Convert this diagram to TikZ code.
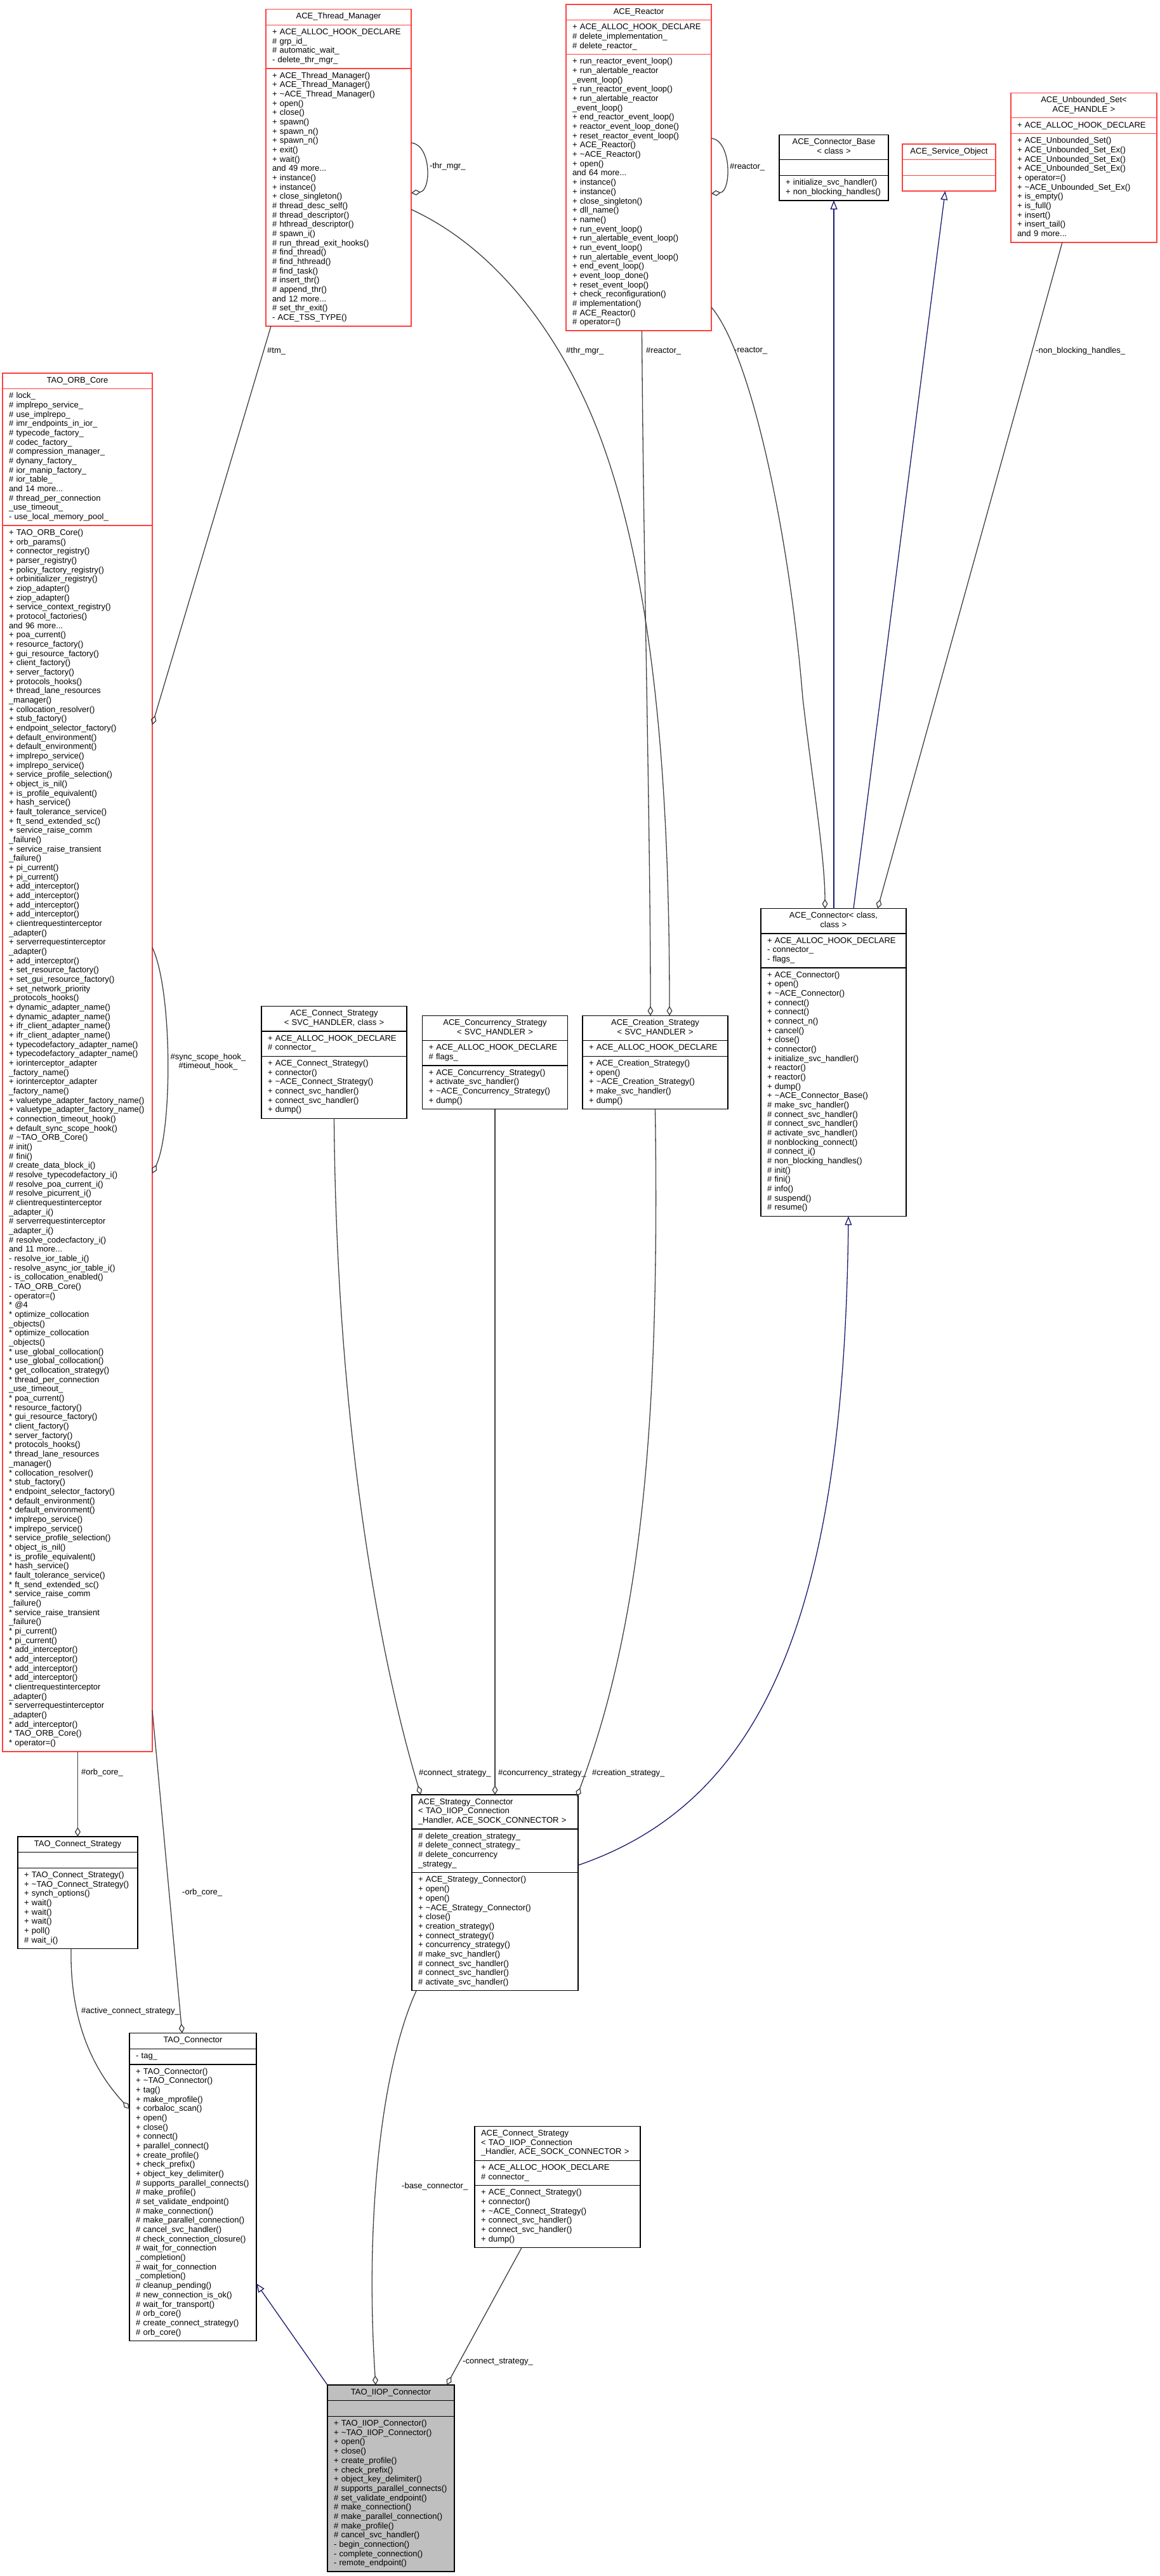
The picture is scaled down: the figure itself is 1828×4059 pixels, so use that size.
\documentclass[tikz,border=0pt]{standalone}
\usepackage{fontspec}
\setmainfont{Liberation Sans}
\usetikzlibrary{arrows.meta,fit,calc}
\definecolor{tred}{RGB}{255,64,64}
\definecolor{egrey}{RGB}{64,64,64}
\definecolor{mblue}{RGB}{25,25,112}
\definecolor{ifill}{RGB}{191,191,191}
\tikzset{
  sec/.style={draw=none, inner xsep=10pt, inner ysep=5pt, outer sep=0pt, anchor=north west,
    font=\fontsize{13}{14.67}\selectfont, execute at begin node=\strut, execute at end node=\strut},
  boxline/.style={line width=1.3pt},
  agg/.style={draw=egrey, line width=1.3pt, -{Diamond[open,length=15pt,width=9pt]}},
  inh/.style={draw=mblue, line width=1.3pt, -{Triangle[open,length=14pt,width=11pt]}},
  lbl/.style={font=\fontsize{13}{14.67}\selectfont, inner sep=0pt, anchor=west},
}
% #1 name, #2 top-left, #3 text width, #4 border colour, #5 section style, #6 title align, #7 title, #8 attrs, #9 methods
\newcommand\umlc[9]{%
  \node[sec, text width=#3pt, align=#6, #5] (#1-t) at #2 {#7};
  \node[sec, text width=#3pt, align=left, #5] (#1-a) at (#1-t.south west) {#8};
  \node[sec, text width=#3pt, align=left, #5] (#1-m) at (#1-a.south west) {#9};
  \node[boxline, draw=#4, inner sep=0pt, outer sep=0pt, fit=(#1-t)(#1-m)] (#1) {};
  \draw[boxline, draw=#4] (#1-t.south west) -- (#1-t.south east) (#1-a.south west) -- (#1-a.south east);
}
\newcommand\st{\relax*}
\catcode`\_=12
\catcode`\~=12
\begin{document}
\begin{tikzpicture}[x=1pt,y=-1pt]
\fill[white] (0,0) rectangle (1828,4059);
\path[use as bounding box] (0,0) rectangle (1828,4059);

% ---------- rank 0 ----------
\umlc{tm}{(419,14.5)}{209}{tred}{}{center}{ACE_Thread_Manager}
{+ ACE_ALLOC_HOOK_DECLARE\\\# grp_id_\\\# automatic_wait_\\- delete_thr_mgr_}
{+ ACE_Thread_Manager()\\+ ACE_Thread_Manager()\\+ ~ACE_Thread_Manager()\\+ open()\\+ close()\\+ spawn()\\+ spawn_n()\\+ spawn_n()\\+ exit()\\+ wait()\\and 49 more...\\+ instance()\\+ instance()\\+ close_singleton()\\\# thread_desc_self()\\\# thread_descriptor()\\\# hthread_descriptor()\\\# spawn_i()\\\# run_thread_exit_hooks()\\\# find_thread()\\\# find_hthread()\\\# find_task()\\\# insert_thr()\\\# append_thr()\\and 12 more...\\\# set_thr_exit()\\- ACE_TSS_TYPE()}

\umlc{reactor}{(892,7)}{209}{tred}{}{center}{ACE_Reactor}
{+ ACE_ALLOC_HOOK_DECLARE\\\# delete_implementation_\\\# delete_reactor_}
{+ run_reactor_event_loop()\\+ run_alertable_reactor\\_event_loop()\\+ run_reactor_event_loop()\\+ run_alertable_reactor\\_event_loop()\\+ end_reactor_event_loop()\\+ reactor_event_loop_done()\\+ reset_reactor_event_loop()\\+ ACE_Reactor()\\+ ~ACE_Reactor()\\+ open()\\and 64 more...\\+ instance()\\+ instance()\\+ close_singleton()\\+ dll_name()\\+ name()\\+ run_event_loop()\\+ run_alertable_event_loop()\\+ run_event_loop()\\+ run_alertable_event_loop()\\+ end_event_loop()\\+ event_loop_done()\\+ reset_event_loop()\\+ check_reconfiguration()\\\# implementation()\\\# ACE_Reactor()\\\# operator=()}

\umlc{cbase}{(1228,212.5)}{152}{black}{}{center}{ACE_Connector_Base\\< class >}{}
{+ initialize_svc_handler()\\+ non_blocking_handles()}

\umlc{svcobj}{(1422,227)}{127}{tred}{}{center}{ACE_Service_Object}{}{}

\umlc{uset}{(1593,146.5)}{210}{tred}{}{center}{ACE_Unbounded_Set<\\ACE_HANDLE >}
{+ ACE_ALLOC_HOOK_DECLARE}
{+ ACE_Unbounded_Set()\\+ ACE_Unbounded_Set_Ex()\\+ ACE_Unbounded_Set_Ex()\\+ ACE_Unbounded_Set_Ex()\\+ operator=()\\+ ~ACE_Unbounded_Set_Ex()\\+ is_empty()\\+ is_full()\\+ insert()\\+ insert_tail()\\and 9 more...}

% ---------- rank 1 ----------
\umlc{orb}{(4,588)}{216}{tred}{}{center}{TAO_ORB_Core}
{\# lock_\\\# implrepo_service_\\\# use_implrepo_\\\# imr_endpoints_in_ior_\\\# typecode_factory_\\\# codec_factory_\\\# compression_manager_\\\# dynany_factory_\\\# ior_manip_factory_\\\# ior_table_\\and 14 more...\\\# thread_per_connection\\_use_timeout_\\- use_local_memory_pool_}
{+ TAO_ORB_Core()\\+ orb_params()\\+ connector_registry()\\+ parser_registry()\\+ policy_factory_registry()\\+ orbinitializer_registry()\\+ ziop_adapter()\\+ ziop_adapter()\\+ service_context_registry()\\+ protocol_factories()\\and 96 more...\\+ poa_current()\\+ resource_factory()\\+ gui_resource_factory()\\+ client_factory()\\+ server_factory()\\+ protocols_hooks()\\+ thread_lane_resources\\_manager()\\+ collocation_resolver()\\+ stub_factory()\\+ endpoint_selector_factory()\\+ default_environment()\\+ default_environment()\\+ implrepo_service()\\+ implrepo_service()\\+ service_profile_selection()\\+ object_is_nil()\\+ is_profile_equivalent()\\+ hash_service()\\+ fault_tolerance_service()\\+ ft_send_extended_sc()\\+ service_raise_comm\\_failure()\\+ service_raise_transient\\_failure()\\+ pi_current()\\+ pi_current()\\+ add_interceptor()\\+ add_interceptor()\\+ add_interceptor()\\+ add_interceptor()\\+ clientrequestinterceptor\\_adapter()\\+ serverrequestinterceptor\\_adapter()\\+ add_interceptor()\\+ set_resource_factory()\\+ set_gui_resource_factory()\\+ set_network_priority\\_protocols_hooks()\\+ dynamic_adapter_name()\\+ dynamic_adapter_name()\\+ ifr_client_adapter_name()\\+ ifr_client_adapter_name()\\+ typecodefactory_adapter_name()\\+ typecodefactory_adapter_name()\\+ iorinterceptor_adapter\\_factory_name()\\+ iorinterceptor_adapter\\_factory_name()\\+ valuetype_adapter_factory_name()\\+ valuetype_adapter_factory_name()\\+ connection_timeout_hook()\\+ default_sync_scope_hook()\\\# ~TAO_ORB_Core()\\\# init()\\\# fini()\\\# create_data_block_i()\\\# resolve_typecodefactory_i()\\\# resolve_poa_current_i()\\\# resolve_picurrent_i()\\\# clientrequestinterceptor\\_adapter_i()\\\# serverrequestinterceptor\\_adapter_i()\\\# resolve_codecfactory_i()\\and 11 more...\\- resolve_ior_table_i()\\- resolve_async_ior_table_i()\\- is_collocation_enabled()\\- TAO_ORB_Core()\\- operator=()\\\st{} @4\\\st{} optimize_collocation\\_objects()\\\st{} optimize_collocation\\_objects()\\\st{} use_global_collocation()\\\st{} use_global_collocation()\\\st{} get_collocation_strategy()\\\st{} thread_per_connection\\_use_timeout_\\\st{} poa_current()\\\st{} resource_factory()\\\st{} gui_resource_factory()\\\st{} client_factory()\\\st{} server_factory()\\\st{} protocols_hooks()\\\st{} thread_lane_resources\\_manager()\\\st{} collocation_resolver()\\\st{} stub_factory()\\\st{} endpoint_selector_factory()\\\st{} default_environment()\\\st{} default_environment()\\\st{} implrepo_service()\\\st{} implrepo_service()\\\st{} service_profile_selection()\\\st{} object_is_nil()\\\st{} is_profile_equivalent()\\\st{} hash_service()\\\st{} fault_tolerance_service()\\\st{} ft_send_extended_sc()\\\st{} service_raise_comm\\_failure()\\\st{} service_raise_transient\\_failure()\\\st{} pi_current()\\\st{} pi_current()\\\st{} add_interceptor()\\\st{} add_interceptor()\\\st{} add_interceptor()\\\st{} add_interceptor()\\\st{} clientrequestinterceptor\\_adapter()\\\st{} serverrequestinterceptor\\_adapter()\\\st{} add_interceptor()\\\st{} TAO_ORB_Core()\\\st{} operator=()}

\umlc{cstrat}{(412,1585.6)}{209}{black}{}{center}{ACE_Connect_Strategy\\< SVC_HANDLER, class >}
{+ ACE_ALLOC_HOOK_DECLARE\\\# connector_}
{+ ACE_Connect_Strategy()\\+ connector()\\+ ~ACE_Connect_Strategy()\\+ connect_svc_handler()\\+ connect_svc_handler()\\+ dump()}

\umlc{concur}{(665.5,1600.3)}{209}{black}{}{center}{ACE_Concurrency_Strategy\\< SVC_HANDLER >}
{+ ACE_ALLOC_HOOK_DECLARE\\\# flags_}
{+ ACE_Concurrency_Strategy()\\+ activate_svc_handler()\\+ ~ACE_Concurrency_Strategy()\\+ dump()}

\umlc{creat}{(918,1600.3)}{209}{black}{}{center}{ACE_Creation_Strategy\\< SVC_HANDLER >}
{+ ACE_ALLOC_HOOK_DECLARE}
{+ ACE_Creation_Strategy()\\+ open()\\+ ~ACE_Creation_Strategy()\\+ make_svc_handler()\\+ dump()}

\umlc{acon}{(1199,1431.6)}{209}{black}{}{center}{ACE_Connector< class,\\class >}
{+ ACE_ALLOC_HOOK_DECLARE\\- connector_\\- flags_}
{+ ACE_Connector()\\+ open()\\+ ~ACE_Connector()\\+ connect()\\+ connect()\\+ connect_n()\\+ cancel()\\+ close()\\+ connector()\\+ initialize_svc_handler()\\+ reactor()\\+ reactor()\\+ dump()\\+ ~ACE_Connector_Base()\\\# make_svc_handler()\\\# connect_svc_handler()\\\# connect_svc_handler()\\\# activate_svc_handler()\\\# nonblocking_connect()\\\# connect_i()\\\# non_blocking_handles()\\\# init()\\\# fini()\\\# info()\\\# suspend()\\\# resume()}

% ---------- rank 2 ----------
\umlc{tcs}{(28,2894)}{169}{black}{}{center}{TAO_Connect_Strategy}{}
{+ TAO_Connect_Strategy()\\+ ~TAO_Connect_Strategy()\\+ synch_options()\\+ wait()\\+ wait()\\+ wait()\\+ poll()\\\# wait_i()}

\umlc{sc}{(649,2828)}{242}{black}{}{left}{ACE_Strategy_Connector\\< TAO_IIOP_Connection\\_Handler, ACE_SOCK_CONNECTOR >}
{\# delete_creation_strategy_\\\# delete_connect_strategy_\\\# delete_concurrency\\_strategy_}
{+ ACE_Strategy_Connector()\\+ open()\\+ open()\\+ ~ACE_Strategy_Connector()\\+ close()\\+ creation_strategy()\\+ connect_strategy()\\+ concurrency_strategy()\\\# make_svc_handler()\\\# connect_svc_handler()\\\# connect_svc_handler()\\\# activate_svc_handler()}

% ---------- rank 3 ----------
\umlc{tcon}{(204,3203.6)}{180}{black}{}{center}{TAO_Connector}{- tag_}
{+ TAO_Connector()\\+ ~TAO_Connector()\\+ tag()\\+ make_mprofile()\\+ corbaloc_scan()\\+ open()\\+ close()\\+ connect()\\+ parallel_connect()\\+ create_profile()\\+ check_prefix()\\+ object_key_delimiter()\\\# supports_parallel_connects()\\\# make_profile()\\\# set_validate_endpoint()\\\# make_connection()\\\# make_parallel_connection()\\\# cancel_svc_handler()\\\# check_connection_closure()\\\# wait_for_connection\\_completion()\\\# wait_for_connection\\_completion()\\\# cleanup_pending()\\\# new_connection_is_ok()\\\# wait_for_transport()\\\# orb_core()\\\# create_connect_strategy()\\\# orb_core()}

\umlc{iiopcs}{(748,3350.3)}{241}{black}{}{left}{ACE_Connect_Strategy\\< TAO_IIOP_Connection\\_Handler, ACE_SOCK_CONNECTOR >}
{+ ACE_ALLOC_HOOK_DECLARE\\\# connector_}
{+ ACE_Connect_Strategy()\\+ connector()\\+ ~ACE_Connect_Strategy()\\+ connect_svc_handler()\\+ connect_svc_handler()\\+ dump()}

% ---------- rank 4 ----------
\umlc{iiop}{(516,3758)}{180}{black}{fill=ifill}{center}{TAO_IIOP_Connector}{}
{+ TAO_IIOP_Connector()\\+ ~TAO_IIOP_Connector()\\+ open()\\+ close()\\+ create_profile()\\+ check_prefix()\\+ object_key_delimiter()\\\# supports_parallel_connects()\\\# set_validate_endpoint()\\\# make_connection()\\\# make_parallel_connection()\\\# make_profile()\\\# cancel_svc_handler()\\- begin_connection()\\- complete_connection()\\- remote_endpoint()}

% ---------- connectors ----------
% self loops
\draw[agg] (tm.east |- 0,225) .. controls (680,228) and (680,301) .. (tm.east |- 0,304);
\node[lbl] (l-thrmgr1) at (677,262) {-thr_mgr_};
\draw[agg] (reactor.east |- 0,218) .. controls (1153,221) and (1153,302) .. (reactor.east |- 0,305);
\node[lbl] (l-reactor1) at (1150,263) {\#reactor_};
\draw[agg] (orb.east |- 0,1493) .. controls (272,1560) and (272,1782) .. (orb.east |- 0,1849);
\node[lbl, anchor=center, align=center] (l-hooks) at (328,1673) {\#sync_scope_hook_\\\#timeout_hook_};

% rank 0 -> rank 1
\draw[agg] ($(tm.south west)+(8,0)$) -- (orb.east |- 0,1142);
\node[lbl] (l-tm) at (421,553) {\#tm_};
\draw[agg] (tm.east |- 0,330) .. controls (800,400) and (900,560) .. (950,700)
  .. controls (1040,950) and (1055,1300) .. (1055,0 |- creat.north);
\node[lbl] (l-thrmgr2) at (892,553) {\#thr_mgr_};
\draw[agg] ($(reactor.south)+(5,0)$) .. controls (1014,900) and (1025,1300) .. (1025,0 |- creat.north);
\node[lbl] (l-reactor2) at (1018,553) {\#reactor_};
\draw[agg] (reactor.east |- 0,484) .. controls (1185,560) and (1245,850) .. (1265,1100)
  .. controls (1280,1230) and (1300,1350) .. (1300,0 |- acon.north);
\node[lbl] (l-reactor3) at (1157,553) {-reactor_};
\draw[inh] (cbase.south |- acon.north) -- (cbase.south);
\draw[inh] (1345,0 |- acon.north) -- ($(svcobj.south)+(-6,0)$);
\draw[agg] ($(uset.south)+(-34,0)$) -- (1383,0 |- acon.north);
\node[lbl] (l-nbh) at (1632,553) {-non_blocking_handles_};

% rank 1 -> rank 2
\draw[agg] (tcs.north |- orb.south) -- (tcs.north);
\node[lbl] (l-orbcore1) at (128,2793) {\#orb_core_};
\draw[agg] (cstrat.south) .. controls (530,2250) and (600,2620) .. (663,0 |- sc.north);
\node[lbl] (l-cs) at (660,2794) {\#connect_strategy_};
\draw[agg] (concur.south) -- (concur.south |- sc.north);
\node[lbl] (l-conc) at (785,2794) {\#concurrency_strategy_};
\draw[agg] (creat.south) .. controls (1040,2250) and (1010,2560) .. ($(sc.north east)+(-2,3)$);
\node[lbl] (l-creat) at (933,2794) {\#creation_strategy_};
\draw[inh] (sc.east |- 0,2939) .. controls (1200,2840) and (1330,2550) .. ($(acon.south)+(23.5,0)$);

% rank 1/2 -> rank 3
\draw[agg] (orb.east |- 0,2695) -- (287,0 |- tcon.north);
\node[lbl] (l-orbcore2) at (287,2982) {-orb_core_};
\draw[agg] (112,0 |- tcs.south) .. controls (110,3190) and (150,3265) .. (tcon.west |- 0,3323);
\node[lbl] (l-acs) at (128,3169) {\#active_connect_strategy_};

% -> rank 4
\draw[agg] ($(sc.south west)+(7,0)$) .. controls (600,3260) and (575,3500) .. ($(iiop.north west)+(76,0)$);
\node[lbl] (l-base) at (633,3445) {-base_connector_};
\draw[agg] ($(iiopcs.south west)+(74,0)$) -- ($(iiop.north west)+(188,0)$);
\node[lbl] (l-cs2) at (729,3722) {-connect_strategy_};
\draw[inh] (iiop.north west) -- (tcon.east |- 0,3598);
\end{tikzpicture}
\end{document}
